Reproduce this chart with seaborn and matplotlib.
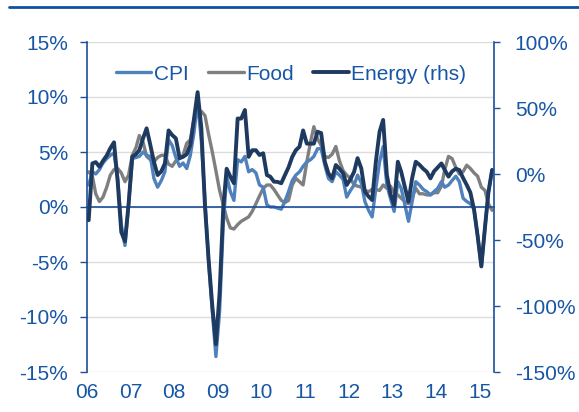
import numpy as np
import pandas as pd
import matplotlib
matplotlib.use("Agg")
import matplotlib.pyplot as plt
from matplotlib.ticker import FuncFormatter, FixedLocator
from matplotlib.lines import Line2D
import seaborn as sns

# ---------------- data (monthly, Jan 2006 - Apr 2015) ----------------
start_month = "2006-01-01"
year_labels = ["06", "07", "08", "09", "10", "11", "12", "13", "14", "15"]

cpi = [
    2.0, 3.2, 3.0, 3.4, 4.0, 4.4, 4.7, 4.9, 2.6, -1.6, -3.5, 0.2,
    4.4, 4.5, 4.6, 5.0, 4.7, 4.6, 2.6, 1.8, 2.4, 3.2, 6.1, 5.6,
    4.5, 3.7, 4.0, 3.5, 4.7, 6.8, 9.6, 6.0, 0.5, -5.0, -9.5, -13.6,
    -9.5, -1.5, 2.8, 1.4, 0.6, 4.3, 4.1, 4.6, 3.2, 3.4, 3.1, 2.0,
    1.8, 0.2, 0.0, 0.0, -0.1, -0.2, 0.5, 1.4, 2.4, 2.9, 3.2, 3.7,
    4.1, 4.3, 4.6, 5.3, 5.3, 3.8, 2.6, 2.3, 3.2, 2.9, 2.5, 0.9,
    1.5, 2.0, 2.9, 2.2, 0.5, -0.3, -0.9, 1.7, 4.1, 5.5, 2.0, 0.8,
    -0.4, 2.3, 1.7, 0.2, -1.3, 0.5, 2.3, 2.0, 1.6, 1.4, 1.1, 1.4,
    1.7, 2.3, 1.8, 2.0, 2.4, 2.8, 2.3, 0.8, 0.5, 0.3, -0.2, -2.6,
    -5.4, -1.8, 1.3, 3.4,
]

food = [
    3.2, 2.8, 1.2, 0.5, 0.9, 1.8, 2.9, 3.4, 3.5, 3.1, 2.3, 2.9,
    4.7, 5.4, 6.5, 5.9, 4.6, 4.3, 4.1, 4.5, 4.7, 4.7, 3.9, 3.7,
    4.2, 4.4, 4.7, 5.8, 6.1, 8.0, 8.6, 8.7, 8.3, 6.6, 5.0, 3.3,
    1.5, 0.2, -1.0, -1.9, -2.0, -1.6, -1.3, -1.1, -0.9, -0.4, 0.3, 1.0,
    1.7, 2.0, 2.0, 1.6, 1.1, 0.6, 0.4, 0.6, 2.0, 2.6, 2.3, 2.0,
    4.1, 5.9, 7.3, 6.2, 5.6, 4.6, 4.5, 4.8, 5.5, 4.2, 3.3, 2.9,
    2.6, 2.0, 1.9, 1.8, 1.5, 1.4, 1.6, 1.6, 1.5, 2.0, 1.7, 1.9,
    1.3, 1.1, 0.8, 0.5, 0.3, 0.9, 1.7, 1.2, 1.2, 1.1, 1.1, 1.3,
    1.3, 1.9, 3.4, 4.6, 4.4, 3.6, 3.0, 3.2, 3.8, 3.5, 3.1, 2.8,
    1.8, 1.5, 0.3, -0.3,
]

energy = [
    -35, 8, 9, 5.5, 10, 14, 19.5, 24, -6, -44, -51, -23,
    13, 15, 18, 27, 34.6, 22, 9.3, -0.8, 2, 8, 33, 29.5,
    27, 12, 13, 15, 22, 42, 62, 35, -25, -65, -100, -129,
    -90, -25, 4, -2, -7, 42, 42, 48.5, 13, 18, 18, 14.4,
    15.7, -0.8, -2, -5.8, -6, -7, -1, 5, 13, 18, 20.7, 33,
    23, 23, 23, 32, 31, 9.3, 0.5, -3.3, 6.8, 4, 0.5, -8.3,
    -4, 1.7, 12, 4.3, -13.4, -17, -19.7, 9.3, 32, 41, -0.8, -15,
    -23.5, 9.3, 1.7, -10, -21, -3, 9.3, 7, 4, 1.7, -3.3, 2,
    5, 8, 3, -2, 2, 4, 3, -3, -8.3, -14, -27, -47,
    -70, -40, -14, 3,
]

left_ticks = [-15, -10, -5, 0, 5, 10, 15]
right_ticks = [-150, -100, -50, 0, 50, 100]
series_names = ["CPI", "Food", "Energy (rhs)"]

# ---------------- styling ----------------
C_CPI = "#4F81BD"
C_FOOD = "#7F7F7F"
C_ENERGY = "#1F3A60"
C_TEXT = "#1656A5"
C_AXIS = "#1B4F9C"
C_GRID = "#DCDCDC"
FS = 15

sns.set_theme(style="white")
plt.rcParams["font.family"] = ["Liberation Sans", "DejaVu Sans"]

dates = pd.date_range(start_month, periods=len(cpi), freq="MS") + pd.Timedelta(days=14)
df = pd.DataFrame({"date": dates, "CPI": cpi, "Food": food, "Energy": energy})

W, H = 579, 412
fig = plt.figure(figsize=(W / 100, H / 100), dpi=100)
ax = fig.add_axes([87 / W, 1 - 372 / H, (494 - 87) / W, (372 - 42) / H])
ax2 = ax.twinx()

sns.lineplot(data=df, x="date", y="Food", ax=ax, color=C_FOOD, lw=2.4, legend=False)
sns.lineplot(data=df, x="date", y="CPI", ax=ax, color=C_CPI, lw=2.4, legend=False)
sns.lineplot(data=df, x="date", y="Energy", ax=ax2, color=C_ENERGY, lw=2.8, legend=False)

# x axis
x0 = pd.Timestamp("2006-01-01")
x1 = pd.Timestamp("2015-05-01")
ax.set_xlim(x0, x1)
year_ticks = pd.date_range("2006-01-01", periods=len(year_labels), freq="YS")
ax.set_xticks(year_ticks)
ax.set_xticklabels(year_labels)
ax.spines["bottom"].set_position(("data", 0))
ax.tick_params(axis="x", direction="out", length=3.6, width=1, color=C_AXIS,
               labelcolor=C_TEXT, labelsize=FS, pad=123)

# left y axis
ax.set_ylim(-15, 15)
ax.yaxis.set_major_locator(FixedLocator(left_ticks))
ax.yaxis.set_major_formatter(FuncFormatter(lambda v, p: f"{v:.0f}%"))
ax.tick_params(axis="y", direction="out", length=5, width=1, color=C_AXIS,
               labelcolor=C_TEXT, labelsize=FS, pad=8.5)
ax.yaxis.grid(True, color=C_GRID, lw=1)
ax.set_axisbelow(True)

# right y axis
ax2.set_ylim(-150, 100)
ax2.yaxis.set_major_locator(FixedLocator(right_ticks))
ax2.yaxis.set_major_formatter(FuncFormatter(lambda v, p: f"{v:.0f}%"))
ax2.tick_params(axis="y", direction="out", length=4.5, width=1, color=C_AXIS,
                labelcolor=C_TEXT, labelsize=FS, pad=10.5)

for a in (ax, ax2):
    a.set_xlabel("")
    a.set_ylabel("")
    for s in a.spines.values():
        s.set_color(C_AXIS)
        s.set_linewidth(1.2)
ax.spines["top"].set_visible(False)
ax.spines["right"].set_visible(False)
ax2.spines["top"].set_visible(False)
ax2.spines["left"].set_visible(False)
ax2.spines["bottom"].set_visible(False)

# legend
handles = [Line2D([], [], color=C_CPI, lw=2.4),
           Line2D([], [], color=C_FOOD, lw=2.4),
           Line2D([], [], color=C_ENERGY, lw=2.8)]
ax2.legend(handles, series_names, loc="center", bbox_to_anchor=(291 / W, 1 - 74 / H),
           bbox_transform=fig.transFigure, ncol=3, frameon=False, fontsize=FS,
           labelcolor=C_TEXT, handlelength=1.7, handletextpad=0.12,
           columnspacing=0.95, borderpad=0, borderaxespad=0)

# top rule
fig.add_artist(Line2D([9 / W, 1.0], [1 - 7 / H, 1 - 7 / H], transform=fig.transFigure,
                      color="#1150A0", lw=2.0))

fig.savefig("out.png", dpi=100)
